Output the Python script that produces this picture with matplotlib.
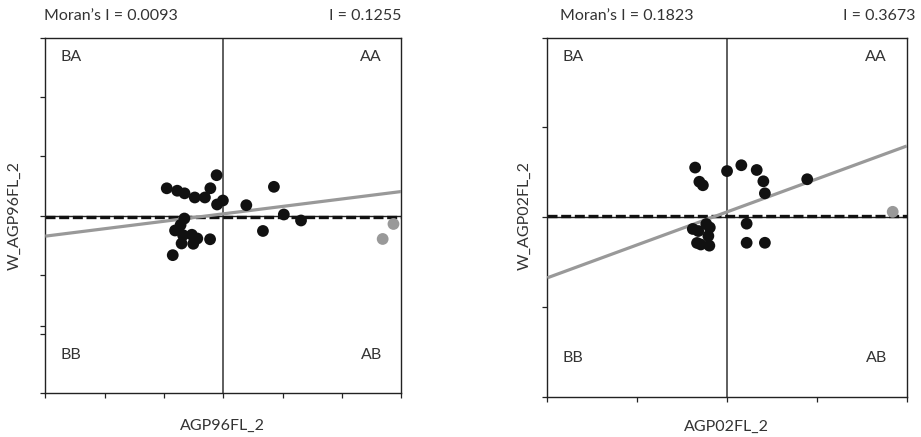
import matplotlib
matplotlib.use("Agg")
import matplotlib.pyplot as plt
import numpy as np

plt.rcParams['font.family'] = ['Lato', 'DejaVu Sans']

# Panel 1: AGP96FL_2 vs spatial lag
x96 = [-0.953, -0.776, -0.653, -0.481, -0.310, -0.218, -0.113, -0.105, -0.007,
       0.388, 0.853, 1.020, 1.310, 0.668, -0.656, -0.720, -0.813, -0.678,
       -0.530, -0.438, -0.506, -0.703, -0.223, -0.852]
y96 = [0.459, 0.418, 0.374, 0.304, 0.304, 0.460, 0.680, 0.186, 0.253,
       0.174, 0.484, 0.017, -0.084, -0.261, -0.051, -0.160, -0.253, -0.332,
       -0.325, -0.388, -0.477, -0.472, -0.401, -0.669]
x96_out = [2.686, 2.868]
y96_out = [-0.396, -0.143]
moran96 = 0.0093
slope96 = 0.1255
icept96 = 0.028
ref96 = -0.02

# Panel 2: AGP02FL_2 vs spatial lag
x02 = [-0.355, -0.308, -0.269, 0.000, 0.159, 0.330, 0.404, 0.421, 0.892,
       0.218, 0.218, 0.421, -0.231, -0.192, -0.381, -0.320, -0.208, -0.334,
       -0.292, -0.197]
y02 = [0.553, 0.395, 0.356, 0.514, 0.579, 0.526, 0.400, 0.266, 0.423,
       -0.072, -0.285, -0.285, -0.076, -0.115, -0.131, -0.154, -0.209, -0.287,
       -0.304, -0.317]
x02_out = [1.843]
y02_out = [0.060]
moran02 = 0.1823
slope02 = 0.3673
icept02 = 0.059
ref02 = 0.015

TXT = '#333333'
GRAY = '#999999'
FS = 11.5

fig = plt.figure(figsize=(9.21, 4.37), dpi=100)
ax1 = fig.add_axes([45.3 / 921, 43.7 / 437, 356 / 921, 355.6 / 437])
ax2 = fig.add_axes([547.3 / 921, 40.3 / 437, 359.5 / 921, 359 / 437])


def draw(ax, xs, ys, xo, yo, slope, icept, ref, lim, ticks):
    ax.set_xlim(-lim, lim)
    ax.set_ylim(-lim, lim)
    ax.axvline(0, color='#333333', lw=1.1, zorder=1)
    ax.axhline(0, color='#222222', lw=1.0, zorder=1)
    ax.axhline(ref, color='#111111', lw=2.4, dashes=(3.0, 1.1), zorder=2)
    xx = np.array([-lim, lim])
    ax.plot(xx, icept + slope * xx, color=GRAY, lw=2.3, zorder=3,
            solid_capstyle='butt')
    ax.scatter(xs, ys, s=72, color='#111111', edgecolors='none', zorder=4)
    ax.scatter(xo, yo, s=72, color=GRAY, edgecolors='none', zorder=4)
    ax.set_xticks(ticks)
    ax.set_yticks(ticks)
    ax.tick_params(direction='out', length=3.5, width=0.9, color='#222222',
                   labelbottom=False, labelleft=False)
    for sp in ax.spines.values():
        sp.set_color('#222222')
        sp.set_linewidth(1.0)
    kw = dict(fontsize=FS, color=TXT, transform=ax.transAxes)
    ax.text(0.043, 0.945, 'BA', ha='left', va='center', **kw)
    ax.text(0.945, 0.945, 'AA', ha='right', va='center', **kw)
    ax.text(0.043, 0.108, 'BB', ha='left', va='center', **kw)
    ax.text(0.945, 0.108, 'AB', ha='right', va='center', **kw)


draw(ax1, x96, y96, x96_out, y96_out, slope96, icept96, ref96, 3,
     [-3, -2, -1, 0, 1, 2, 3])
ax1.set_yticks([-1.86], minor=True)
ax1.tick_params(which='minor', direction='out', length=3.5, width=0.9,
                color='#222222')
draw(ax2, x02, y02, x02_out, y02_out, slope02, icept02, ref02, 2,
     [-2, -1, 0, 1, 2])

# axis titles
fig.text(222.7 / 921, 1 - 426 / 437, 'AGP96FL_2', ha='center', va='center',
         fontsize=FS, color=TXT)
fig.text(15 / 921, 1 - 216 / 437, 'W_AGP96FL_2', ha='center', va='center',
         rotation=90, fontsize=FS, color=TXT)
fig.text(726.7 / 921, 1 - 427 / 437, 'AGP02FL_2', ha='center', va='center',
         fontsize=FS, color=TXT)
fig.text(525 / 921, 1 - 216 / 437, 'W_AGP02FL_2', ha='center', va='center',
         rotation=90, fontsize=FS, color=TXT)

ty = 1 - 16 / 437
fig.text(44 / 921, ty, f'Moran’s I = {moran96:.4f}', ha='left', va='center',
         fontsize=FS, color=TXT)
fig.text(401 / 921, ty, f'I = {slope96:.4f}', ha='right', va='center',
         fontsize=FS, color=TXT)
fig.text(560 / 921, ty, f'Moran’s I = {moran02:.4f}', ha='left', va='center',
         fontsize=FS, color=TXT)
fig.text(915 / 921, ty, f'I = {slope02:.4f}', ha='right', va='center',
         fontsize=FS, color=TXT)

fig.savefig('out.png', dpi=100)
